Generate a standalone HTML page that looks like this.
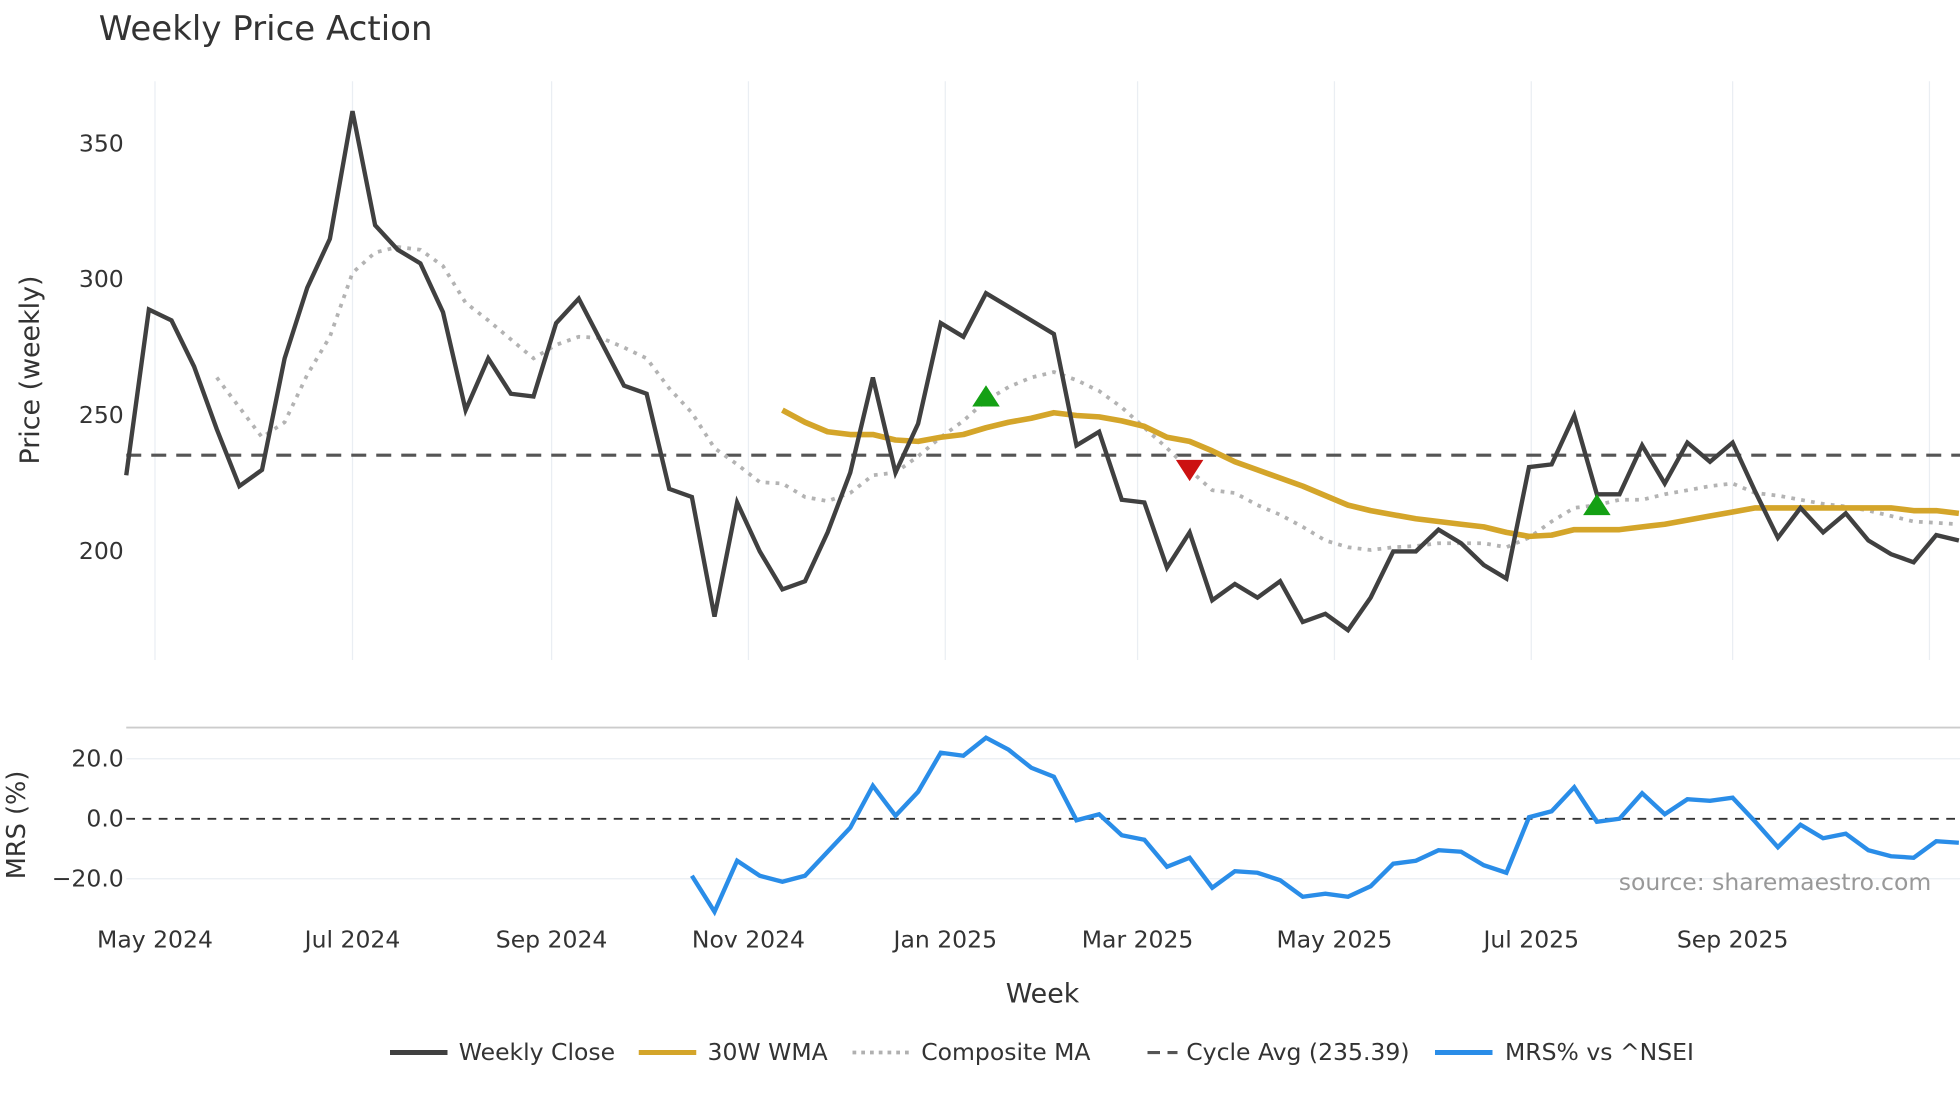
<!DOCTYPE html>
<html><head><meta charset="utf-8"><style>
html,body{margin:0;padding:0;background:#fff;}
svg{display:block;font-family:"DejaVu Sans","Liberation Sans",sans-serif;}
</style></head><body>
<svg id="chart" width="1960" height="1102" viewBox="0 0 1568 881.6" xmlns="http://www.w3.org/2000/svg">
<rect width="1568" height="882" fill="#fff"/>
<text x="79" y="32" font-size="27.2" fill="#333">Weekly Price Action</text>
<g id="grid"></g>
<g id="series"></g>
<text transform="translate(31,296) rotate(-90)" text-anchor="middle" font-size="21.5" fill="#333">Price (weekly)</text>
<text transform="translate(20,660) rotate(-90)" text-anchor="middle" font-size="20.5" fill="#333">MRS (%)</text>
<text x="834" y="802" text-anchor="middle" font-size="21.5" fill="#333">Week</text>
<text x="1545" y="712" text-anchor="end" font-size="18.8" fill="#999">source: sharemaestro.com</text>
<g font-size="18.8" fill="#333">
<g><line x1="312" y1="842" x2="358" y2="842" stroke="#404040" stroke-width="4"/><text x="367" y="848">Weekly Close</text></g>
<g><line x1="511" y1="842" x2="557" y2="842" stroke="#d4a52a" stroke-width="4"/><text x="566" y="848">30W WMA</text></g>
<g><line x1="682" y1="842" x2="728" y2="842" stroke="#b0b0b0" stroke-width="3" stroke-dasharray="3,4"/><text x="737" y="848">Composite MA</text></g>
<g><line x1="918" y1="842" x2="942" y2="842" stroke="#555" stroke-width="2.5" stroke-dasharray="10,6"/><text x="949" y="848">Cycle Avg (235.39)</text></g>
<g><line x1="1148" y1="842" x2="1194" y2="842" stroke="#2a8de8" stroke-width="4"/><text x="1204" y="848">MRS% vs ^NSEI</text></g>
</g>
</svg>
<script>
const closeVals=[228,289,285,268,245,224,230,271,297,315,362,320,311,306,288,252,271,258,257,284,293,277,261,258,223,220,176,218,200,186,189,207,229,264,229,247,284,279,295,290,285,280,239,244,219,218,194,207,182,188,183,189,174,177,171,183,200,200,208,203,195,190,231,232,250,221,221,239,225,240,233,240,222,205,216,207,214,204,199,196,206,204];
const wmaStart=29;
const wmaVals=[252,247.5,244,243,243,241,240.5,242,243,245.5,247.5,249,251,250,249.5,248,246,242,240.5,237,233,230,227,224,220.5,217,215,213.5,212,211,210,209,207,205.5,206,208,208,208,209,210,211.5,213,214.5,216,216,216,216,216,216,216,215,215,214];
const compStart=4;
const compVals=[264,253,242,247.5,265,279,302.5,310,312,311,305,291.5,285,278,271,276,279,278.5,275,271,260,251,238,232,225.5,225,220,218.5,221.5,228,229,235,242,248,255.5,260.5,264,266,263,259,253,245.5,238,230,222.5,221.5,217,213.5,209,204,201.5,200.5,201.5,202,203,203,203,201.5,205,211,216,217,219,219,221,222.5,224,225,221.5,220.5,219,217.5,216.5,215,213,211,210.5,210];
const mrsStart=25;
const mrsVals=[-19,-31,-14,-19,-21,-19,-11,-3,11,1,9,22,21,27,23,17,14,-0.5,1.5,-5.5,-7,-16,-13,-23,-17.5,-18,-20.5,-26,-25,-26,-22.5,-15,-14,-10.5,-11,-15.5,-18,0.5,2.5,10.5,-1,0,8.5,1.5,6.5,6,7,-1,-9.5,-2,-6.5,-5,-10.5,-12.5,-13,-7.5,-8];
const cycleAvg=235.39;
const signalIdx=[38,47,65];
const signalVal=[257,230,217];
const signalDir=['up','down','up'];
const priceTicks=[200,250,300,350];
const mrsTicks=[-20,0,20];
const mrsTickLabels=['−20.0','0.0','20.0'];
const monthLabels=['May 2024','Jul 2024','Sep 2024','Nov 2024','Jan 2025','Mar 2025','May 2025','Jul 2025','Sep 2025',''];
const monthWeekPos=[1.27,10,18.8,27.5,36.2,44.7,53.4,62.1,71,79.7];

const NS='http://www.w3.org/2000/svg';
const X=i=>101+i*18.1;
const Y=v=>115+(350-v)*2.174;
const YM=v=>655-v*2.4;
const grid=document.getElementById('grid'), ser=document.getElementById('series');
function mk(tag,attrs,parent){const e=document.createElementNS(NS,tag);for(const k in attrs)e.setAttribute(k,attrs[k]);parent.appendChild(e);return e;}

monthWeekPos.forEach((w,i)=>{
  const l=mk('line',{x1:X(w),x2:X(w),y1:65,y2:528,stroke:'#eaeef3','stroke-width':1},grid);
  
  
  if(monthLabels[i]){
    const t=mk('text',{x:X(w),y:758,'text-anchor':'middle','font-size':18.8,fill:'#333'},grid);
    t.textContent=monthLabels[i];
    
    
  }
});
priceTicks.forEach(v=>{
  const t=mk('text',{x:99,y:Y(v)+6,'text-anchor':'end','font-size':18.8,fill:'#333'},grid);
  t.textContent=v;
  
  
});
const sep=mk('line',{x1:101,x2:1568,y1:582,y2:582,stroke:'#ccc','stroke-width':1.5},grid);


mrsTicks.forEach((v,i)=>{
  if(v!==0){const g=mk('line',{x1:101,x2:1568,y1:YM(v),y2:YM(v),stroke:'#eaeef3','stroke-width':1},grid);
  
  }
  const t=mk('text',{x:99,y:YM(v)+6,'text-anchor':'end','font-size':18.8,fill:'#333'},grid);
  t.textContent=mrsTickLabels[i];
  
  
});
const zl=mk('line',{x1:101,x2:1568,y1:YM(0),y2:YM(0),stroke:'#333','stroke-width':1.5,'stroke-dasharray':'7,6'},grid);



function path(vals,start,yf){return vals.map((v,i)=>(i?'L':'M')+X(start+i).toFixed(1)+','+yf(v).toFixed(1)).join('');}
const ca=mk('line',{x1:101,x2:1568,y1:Y(cycleAvg),y2:Y(cycleAvg),stroke:'#555','stroke-width':2.5,'stroke-dasharray':'12,8'},ser);


const cm=mk('path',{d:path(compVals,compStart,Y),fill:'none',stroke:'#b3b3b3','stroke-width':3,'stroke-dasharray':'3,5'},ser);


const wm=mk('path',{d:path(wmaVals,wmaStart,Y),fill:'none',stroke:'#d4a52a','stroke-width':4.5,'stroke-linejoin':'round'},ser);


const cl=mk('path',{d:path(closeVals,0,Y),fill:'none',stroke:'#404040','stroke-width':3.5,'stroke-linejoin':'miter'},ser);


const mr=mk('path',{d:path(mrsVals,mrsStart,YM),fill:'none',stroke:'#2a8de8','stroke-width':3.5},ser);


signalIdx.forEach((ix,k)=>{
  const x=X(ix),y=Y(signalVal[k]);
  const pts=signalDir[k]==='up'?`${x-11},${y+8} ${x+11},${y+8} ${x},${y-9}`:`${x-11},${y-8} ${x+11},${y-8} ${x},${y+9}`;
  const p=mk('polygon',{points:pts,fill:signalDir[k]==='up'?'#14a014':'#cc1111'},ser);
  
  
});
</script>
</body></html>
